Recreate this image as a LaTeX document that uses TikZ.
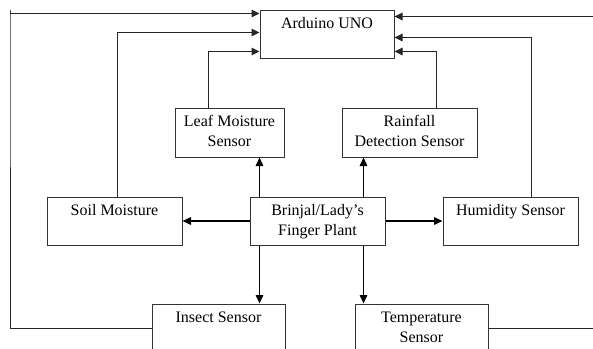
\documentclass[tikz,border=0pt]{standalone}
\usepackage{fontspec}
\setmainfont{Liberation Serif}
\usetikzlibrary{arrows.meta,calc}
\begin{document}
\begin{tikzpicture}[x=1pt,y=-1pt,
  box/.style={draw=black!80,line width=1pt,minimum height=48pt,inner sep=0pt,align=center,
    font=\fontsize{16}{20}\selectfont},
  fb/.style={draw=black!85,line width=1pt,-{Triangle[length=8pt,width=7.5pt]}},
  pa/.style={draw=black,line width=1.5pt,-{Triangle[length=8.5pt,width=7.5pt]}}]
\useasboundingbox (0,0) rectangle (593,348);
\clip (0,0) rectangle (593,348);
\node[box,minimum width=134pt] (ard) at (327,34) {\strut Arduino UNO\\\strut};
\node[box,minimum width=109pt,minimum height=49pt] (leaf) at (229.5,132.5) {\strut Leaf Moisture\\\strut Sensor};
\node[box,minimum width=135pt,minimum height=49pt] (rain) at (409.5,132.5) {\strut Rainfall\\\strut Detection Sensor};
\node[box,minimum width=135pt] (soil) at (114.5,221) {\strut Soil Moisture\\\strut};
\node[box,minimum width=135pt] (plant) at (317.5,221) {\strut Brinjal/Lady’s\\\strut Finger Plant};
\node[box,minimum width=135pt] (hum) at (510.5,221) {\strut Humidity Sensor\\\strut};
\node[box,minimum width=133pt] (ins) at (218.5,328) {\strut Insect Sensor\\\strut};
\node[box,minimum width=133pt] (temp) at (421.5,328) {\strut Temperature\\\strut Sensor};
\coordinate (lft) at (10,0);
\coordinate (rgt) at (600,0);
% plant arrows
\draw[pa] ([xshift=10pt]plant.north west) -- ([xshift=10pt]plant.north west |- leaf.south);
\draw[pa] ([xshift=-22pt]plant.north east) -- ([xshift=-22pt]plant.north east |- rain.south);
\draw[pa] ([xshift=10pt]plant.south west) -- ([xshift=10pt]plant.south west |- ins.north);
\draw[pa] ([xshift=-22pt]plant.south east) -- ([xshift=-22pt]plant.south east |- temp.north);
\draw[pa] (plant.west) -- (soil.east |- plant.west);
\draw[pa] (plant.east) -- (hum.west |- plant.east);
% feedback to Arduino, left side
\draw[fb] ([xshift=34pt]leaf.north west) |- ([yshift=7pt]ard.south west);
\draw[fb] ([xshift=71pt]soil.north west) |- ([yshift=-23pt]ard.north west);
\draw[fb] (ins.west) -| (lft |- ard.north) |- ([yshift=-4pt]ard.north west);
% right side
\draw[fb] ([xshift=95pt]rain.north west) |- ([yshift=7pt]ard.south east);
\draw[fb] ([xshift=89pt]hum.north west) |- ([yshift=-28pt]ard.north east);
\draw[fb] (temp.east) -| (rgt |- ard.north) |- ([yshift=-7pt]ard.north east);
\end{tikzpicture}
\end{document}
